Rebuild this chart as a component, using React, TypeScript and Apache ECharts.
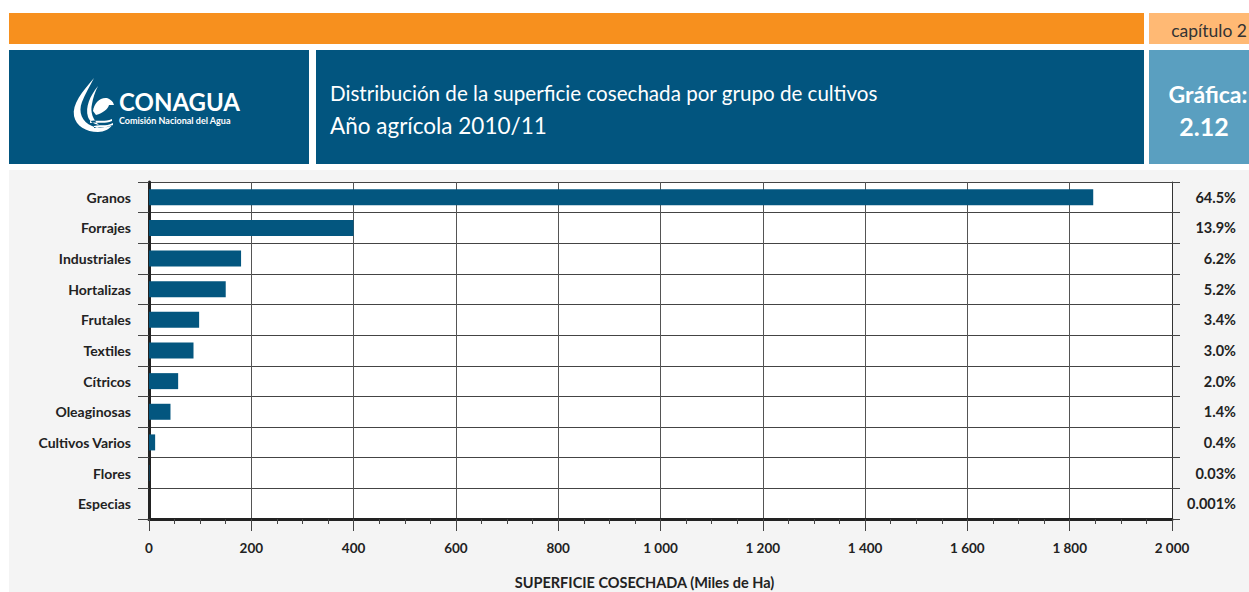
import React, { useEffect, useRef } from "react";
import * as echarts from "echarts";

const categories = [
  "Granos",
  "Forrajes",
  "Industriales",
  "Hortalizas",
  "Frutales",
  "Textiles",
  "Cítricos",
  "Oleaginosas",
  "Cultivos Varios",
  "Flores",
  "Especias",
];
const values = [1846, 400, 180, 150, 98, 87, 57, 42, 12, 1, 0.03];
const shares = ["64.5%", "13.9%", "6.2%", "5.2%", "3.4%", "3.0%", "2.0%", "1.4%", "0.4%", "0.03%", "0.001%"];
const xMin = 0;
const xMax = 2000;
const xStep = 200;

const titleLine1 = "Distribución de la superficie cosechada por grupo de cultivos";
const titleLine2 = "Año agrícola 2010/11";
const chapter = "capítulo 2";
const figLabel = "Gráfica:";
const figNum = "2.12";
const axisName = "SUPERFICIE COSECHADA (Miles de Ha)";

const FONT = "Lato, 'Open Sans', sans-serif";

const logoPath =
  "M22 0 C10 14 0 26 2 38 C4 48 14 54 26 54 C32 54 38 51 40 47 C34 50 26 51 20 48 C10 44 6 34 10 24 C13 16 18 8 22 0 Z " +
  "M26 8 C18 18 13 29 16 39 C18 44 22 46 27 47 C21 42 18 34 20 26 C21 20 23 14 26 8 Z " +
  "M21 33 C22 25 28 19 35 20 C38 21 41 23 42 27 L37 27 C36 31 31 35 24 37 Z " +
  "M18 43 C24 41 30 45 40 41 L40 43 C30 47 24 43 18 45 Z " +
  "M22 48 C28 46 33 49 41 45 L41 47 C33 51 28 48 22 50 Z";

export default function App() {
  const ref = useRef<HTMLDivElement>(null);
  useEffect(() => {
    if (!ref.current) return;
    try {
      echarts.graphic.registerShape("logo", echarts.graphic.extendPath(logoPath, {}));
    } catch (e) {}
    const chart = echarts.init(ref.current, null, { renderer: "svg" });
    const fmt = (v: number) => {
      const s = String(Math.round(v));
      return s.length > 3 ? s.slice(0, s.length - 3) + " " + s.slice(-3) : s;
    };
    chart.setOption({
      animation: false,
      backgroundColor: "#ffffff",
      textStyle: { fontFamily: FONT },
      graphic: [
        { type: "rect", z: -10, shape: { x: 9, y: 170, width: 1240, height: 422 }, style: { fill: "#f4f4f4" } },
        { type: "rect", shape: { x: 9, y: 13, width: 1135, height: 31 }, style: { fill: "#f7901e" } },
        { type: "rect", shape: { x: 1149, y: 13, width: 100, height: 31 }, style: { fill: "#ffb974" } },
        { type: "rect", shape: { x: 9, y: 50, width: 300, height: 114 }, style: { fill: "#02557f" } },
        { type: "rect", shape: { x: 316, y: 50, width: 828, height: 114 }, style: { fill: "#02557f" } },
        { type: "rect", shape: { x: 1149, y: 50, width: 100, height: 114 }, style: { fill: "#5a9fc0" } },
        {
          type: "text",
          x: 1247,
          y: 30,
          style: { text: chapter, fill: "#333333", font: `17.5px ${FONT}`, align: "right", verticalAlign: "middle" },
        },
        {
          type: "text",
          x: 330,
          y: 93,
          style: { text: titleLine1, fill: "#ffffff", font: `20.6px ${FONT}`, align: "left", verticalAlign: "middle" },
        },
        {
          type: "text",
          x: 330,
          y: 125,
          style: { text: titleLine2, fill: "#ffffff", font: `22.5px ${FONT}`, align: "left", verticalAlign: "middle" },
        },
        {
          type: "text",
          x: 1208,
          y: 94,
          style: { text: figLabel, fill: "#ffffff", font: `bold 23px ${FONT}`, align: "center", verticalAlign: "middle" },
        },
        {
          type: "text",
          x: 1204,
          y: 126,
          style: { text: figNum, fill: "#ffffff", font: `bold 25px ${FONT}`, align: "center", verticalAlign: "middle" },
        },
        { type: "logo", x: 72, y: 78, scaleX: 1, scaleY: 1, style: { fill: "#ffffff" } },
        {
          type: "text",
          x: 119,
          y: 101,
          style: { text: "CONAGUA", fill: "#ffffff", font: `bold 24px ${FONT}`, align: "left", verticalAlign: "middle" },
        },
        {
          type: "text",
          x: 119,
          y: 120,
          style: {
            text: "Comisión Nacional del Agua",
            fill: "#ffffff",
            font: `bold 9px ${FONT}`,
            align: "left",
            verticalAlign: "middle",
          },
        },
      ],
      grid: {
        left: 149,
        right: 77,
        top: 182,
        bottom: 73,
        show: true,
        backgroundColor: "#ffffff",
        borderWidth: 0,
        containLabel: false,
        outerBoundsMode: "none",
      },
      xAxis: {
        type: "value",
        min: xMin,
        max: xMax,
        interval: xStep,
        name: axisName,
        nameLocation: "middle",
        nameGap: 56,
        nameTextStyle: {
          fontFamily: FONT,
          fontWeight: "bold",
          fontSize: 14.5,
          color: "#222222",
          padding: [0, 32, 0, 0],
        },
        axisLine: { show: true, lineStyle: { color: "#222222", width: 3 } },
        axisTick: { show: true, length: 12, lineStyle: { color: "#444444", width: 1 } },
        minorTick: { show: true, splitNumber: 4, length: 5, lineStyle: { color: "#444444", width: 1 } },
        splitLine: { show: true, lineStyle: { color: "#555555", width: 1 } },
        axisLabel: {
          formatter: fmt,
          margin: 22,
          fontFamily: FONT,
          fontWeight: "bold",
          fontSize: 13.5,
          color: "#222222",
        },
      },
      yAxis: [
        {
          type: "category",
          data: categories,
          inverse: true,
          position: "left",
          axisLine: { show: true, lineStyle: { color: "#222222", width: 3 } },
          axisTick: { show: true, length: 11, lineStyle: { color: "#444444", width: 1 } },
          splitLine: { show: true, lineStyle: { color: "#444444", width: 1 } },
          axisLabel: { margin: 18, fontFamily: FONT, fontWeight: "bold", fontSize: 14, color: "#222222" },
        },
        {
          type: "category",
          data: shares,
          inverse: true,
          position: "right",
          axisLine: { show: true, lineStyle: { color: "#333333", width: 1 } },
          axisTick: { show: true, length: 8, lineStyle: { color: "#444444", width: 1 } },
          splitLine: { show: false },
          axisLabel: {
            margin: 64,
            align: "right",
            fontFamily: FONT,
            fontWeight: "bold",
            fontSize: 14.5,
            color: "#222222",
          },
        },
      ],
      series: [
        {
          type: "bar",
          data: values,
          yAxisIndex: 0,
          barWidth: 16,
          itemStyle: { color: "#03567f" },
          z: 3,
        },
      ],
    });
    return () => chart.dispose();
  }, []);
  return (
    <div
      ref={ref}
      style={{ position: "absolute", left: 0, top: 0, width: 1249, height: 592 }}
    />
  );
}
